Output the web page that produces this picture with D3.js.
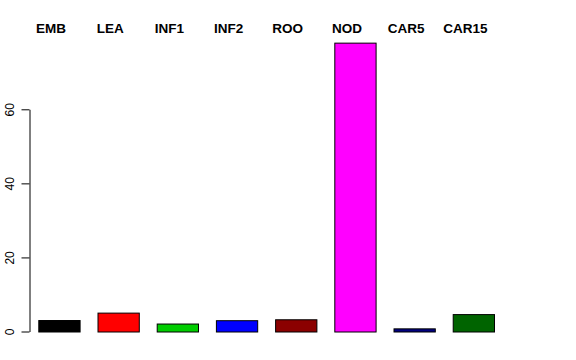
<!DOCTYPE html>
<html>
<head>
<meta charset="utf-8">
<script src="https://cdn.jsdelivr.net/npm/d3@7"></script>
<style>
  html, body { margin: 0; padding: 0; background: #fff; }
  svg { display: block; }
</style>
</head>
<body>
<svg id="chart" width="576" height="360"></svg>
<script>
const categories = ["EMB", "LEA", "INF1", "INF2", "ROO", "NOD", "CAR5", "CAR15"];
const values = [3.1, 5.1, 2.15, 3.05, 3.3, 78.0, 0.85, 4.7];
const colors = ["#000000", "#FF0000", "#00CD00", "#0000FF", "#8B0000", "#FF00FF", "#000080", "#006400"];
const yTicks = [0, 20, 40, 60];

const svg = d3.select("#chart");

const x = d3.scaleBand()
  .domain(categories)
  .range([38.3, 495])
  .paddingInner(0.4 / 1.4)
  .paddingOuter(0);

const y = d3.scaleLinear()
  .domain([0, 60])
  .range([331.5, 109.3]);

// bars
svg.append("g")
  .selectAll("rect")
  .data(categories)
  .join("rect")
  .attr("x", d => x(d) + 0.5)
  .attr("y", (d, i) => y(values[i]) + 0.5)
  .attr("width", x.bandwidth() - 1)
  .attr("height", (d, i) => y(0) - y(values[i]))
  .attr("fill", (d, i) => colors[i])
  .attr("stroke", "#000")
  .attr("stroke-width", 1);

// y axis
const yAxis = d3.axisLeft(y)
  .tickValues(yTicks)
  .tickSize(8)
  .tickSizeOuter(0)
  .tickPadding(0);

const ag = svg.append("g")
  .attr("transform", "translate(29.5,0)")
  .call(yAxis);

ag.select(".domain").attr("stroke", "#000").attr("stroke-width", 1);
ag.selectAll(".tick line").attr("stroke", "#000");
ag.selectAll(".tick text")
  .attr("font-family", "Liberation Sans, Arial, sans-serif")
  .attr("font-size", 12)
  .attr("fill", "#000")
  .attr("text-anchor", "middle")
  .attr("dy", null)
  .attr("x", null)
  .attr("transform", "translate(-15.5,0) rotate(-90)");

// category labels on top
svg.append("g")
  .selectAll("text")
  .data(categories)
  .join("text")
  .attr("x", d => x(d) + x.bandwidth() / 2 - 8.5)
  .attr("y", 33)
  .attr("text-anchor", "middle")
  .attr("font-family", "Liberation Sans, Arial, sans-serif")
  .attr("font-weight", "bold")
  .attr("font-size", 13.5)
  .attr("fill", "#000")
  .text(d => d);
</script>
</body>
</html>
